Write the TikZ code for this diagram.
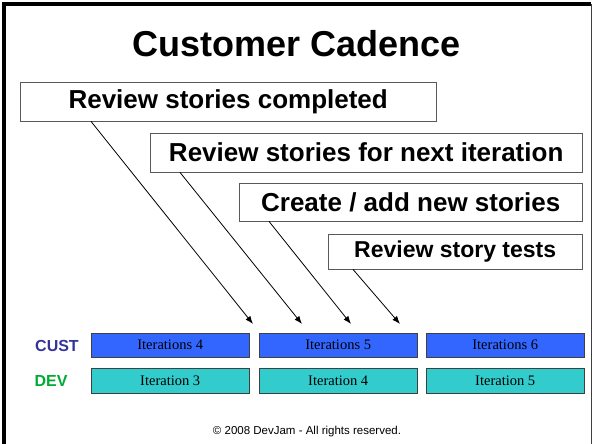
\documentclass[tikz,border=0pt]{standalone}
\usepackage{fontspec}
\setmainfont{Liberation Serif}
\setsansfont{Liberation Sans}
\usetikzlibrary{arrows.meta,positioning}
\definecolor{custblue}{RGB}{51,102,255}
\definecolor{custtext}{RGB}{51,51,153}
\definecolor{devteal}{RGB}{51,204,204}
\definecolor{devtext}{RGB}{0,170,51}
\tikzstyle{task} = [rectangle,draw=black!65,fill=white,anchor=north west,inner sep=0pt,
  text centered,font=\sffamily\bfseries\fontsize{26}{30}\selectfont]
\tikzstyle{iter} = [rectangle,draw=black!75,anchor=north west,inner sep=0pt,
  minimum width=158pt,font=\fontsize{14.5}{17}\selectfont]
\tikzstyle{who} = [font=\sffamily\bfseries\fontsize{16}{19}\selectfont]
\tikzstyle{link} = [-{Latex[length=8pt,width=6pt]},line width=0.8pt]

\begin{document}
\begin{tikzpicture}[x=1pt,y=-1pt]
\useasboundingbox (0,0) rectangle (592,444);
\draw[line width=4pt] (4,450) -- (4,4.5) -- (591,4.5);
\draw[line width=1pt,black!75] (591,4.5) -- (591,450);

\node[font=\sffamily\bfseries\fontsize{36}{42}\selectfont,anchor=base] (title) at (297,57) {Customer Cadence};

\node[task,minimum width=416pt,minimum height=39pt] (done) at (20,82) {Review stories completed};
\node[task,minimum width=432pt,minimum height=39pt] (next) at (150,133) {Review stories for next iteration};
\node[task,minimum width=343pt,minimum height=38pt] (add) at (239,183) {Create / add new stories};
\node[task,minimum width=254pt,minimum height=35pt,font=\sffamily\bfseries\fontsize{23}{27}\selectfont] (tests) at (328,234) {Review story tests};

\node[who,text=custtext] (cust) at (57,346) {CUST};
\node[who,text=devtext] (dev) at (51,381) {DEV};
\foreach \x/\n [count=\i] in {91/4,259/5,426/6}
  \node[iter,fill=custblue,minimum height=24pt] (cust\i) at (\x,333) {Iterations \n};
\foreach \x/\n [count=\i] in {91/3,259/4,426/5}
  \node[iter,fill=devteal,minimum height=25pt] (dev\i) at (\x,368) {Iteration \n};

\coordinate (t1) at (253,324);
\coordinate (t2) at (302,324);
\coordinate (t3) at (351,324);
\coordinate (t4) at (400,324);
\draw[link] ([xshift=71pt]done.south west) -- (t1);
\draw[link] ([xshift=30pt]next.south west) -- (t2);
\draw[link] ([xshift=30pt]add.south west) -- (t3);
\draw[link] ([xshift=25pt]tests.south west) -- (t4);

\node[font=\sffamily\fontsize{11.5}{14}\selectfont] (copy) at (307,432) {\textcopyright{} 2008 DevJam - All rights reserved.};
\end{tikzpicture}
\end{document}
